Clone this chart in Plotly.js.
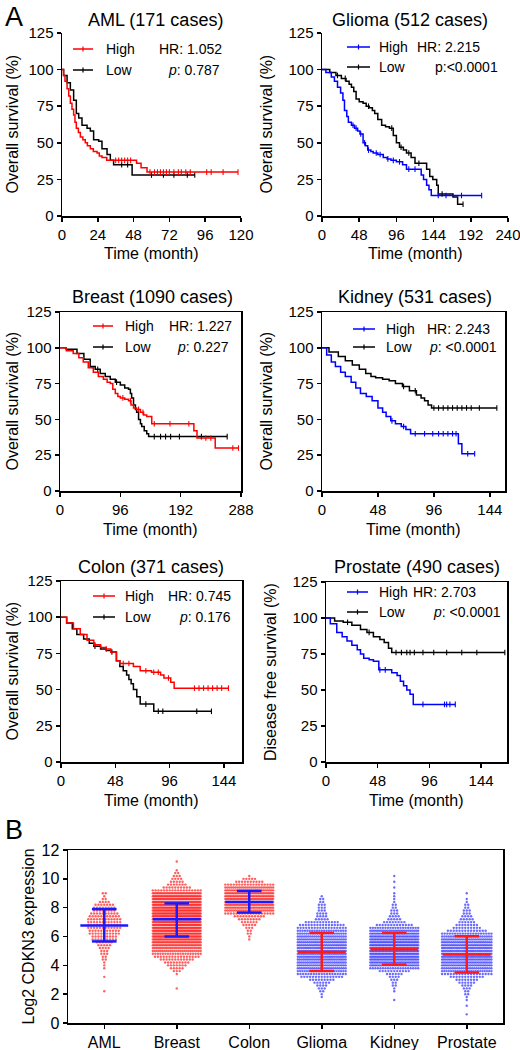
<!DOCTYPE html>
<html><head><meta charset="utf-8">
<script src="https://cdn.plot.ly/plotly-3.0.1.min.js"></script>
<style>html,body{margin:0;padding:0;background:#fff}#chart{width:520px;height:1050px}</style>
</head><body><div id="chart"></div>
<script>
// ================= DATA =================
const kmTitles = ['AML (171 cases)', 'Glioma (512 cases)', 'Breast (1090 cases)', 'Kidney (531 cases)', 'Colon (371 cases)', 'Prostate (490 cases)'];
const kmYLabels = ['Overall survival (%)', 'Overall survival (%)', 'Overall survival (%)', 'Overall survival (%)', 'Overall survival (%)', 'Disease free survival (%)'];
const kmXLabel = 'Time (month)';
const hrValues = ['1.052', '2.215', '1.227', '2.243', '0.745', '2.703'];
const pValues = ['0.787', '<0.0001', '0.227', '<0.0001', '0.176', '<0.0001'];
const pItalic = [true, false, true, true, true, true];
const seriesNames = ['High', 'Low'];
const kmXTicks = [[0,24,48,72,96,120],[0,48,96,144,192,240],[0,96,192,288],[0,48,96,144],[0,48,96,144],[0,48,96,144]];
const kmYTicks = [0, 25, 50, 75, 100, 125];

// AML
const amlHighT = [0,1,2,3.4,4.5,5.6,6.7,7.8,8.7,9.6,11,12.3,14,15.6,17,19,21,23.5,25,26.8,30,50,53,57,118];
const amlHighS = [100,96,92,87,82,77,73,69,64,60,57,54,52,50,48,46,44,43,41,40,38,36,33,30,30];
const amlHighCens = [36,38,40,42,44,46,59,62,64,66,68,70,72,75,78,80,83,86,97,100,108,118];
const amlLowT = [0,1.1,3.4,5.6,7.8,9.6,11.2,13.4,16.8,19,21.2,24.6,26.8,30.2,32.4,34.6,47,89];
const amlLowS = [100,96,91,86,79,70,67,62,60,58,52,51,46,42,38,35,28,28];
const amlLowCens = [40,44,60,68,75,84,89];
// Glioma
const gliHighT = [0,5,12,16,20,24,27,29,32,34,38,42,46,49,53,56,59,63,66,72,79,84,89,96,104,109,128,131,135,138,141,206];
const gliHighS = [100,98,95,92,88,84,79,72,68,64,62,60,58,56,50,48,45,44,43,42,40,39,38,37,35,32,28,25,21,18,14,14];
const gliHighCens = [40,44,50,55,60,70,75,85,92,100,112,120,150,160,180,206];
const gliLowT = [0,10,18,25,31,35,38,41,44,48,53,57,61,65,68,72,77,82,87,92,96,100,105,109,115,120,130,135,139,143,148,150,165,169,175,182];
const gliLowS = [100,98,96,94,92,90,88,85,80,78,77,75,74,72,70,66,62,61,60,55,50,47,45,43,40,36,36,32,27,25,21,15,15,13,8,8];
const gliLowCens = [20,30,60,90,102,112,125,155,182];
// Breast
const brHighT = [0,10,21,30,37,45,53,61,69,75,80,84,88,92,96,103,109,113,117,122,128,133,138,146,213,218,247,284];
const brHighS = [100,98,96,93,90,86,83,80,78,76,75,71,68,66,65,64,63,60,58,57,55,53,52,47,42,37,30,30];
const brHighCens = [100,112,125,132,150,175,205,232,240,275,284];
const brLowT = [0,10,27,38,48,56,64,72,80,88,96,103,109,112,114,117,120,122,125,128,130,134,138,141,266];
const brLowS = [100,99,96,92,87,85,82,80,78,76,74,72,71,68,65,60,57,55,50,47,45,42,40,38,38];
const brLowCens = [60,90,150,160,168,176,190,225,266];
// Kidney
const kiHighT = [0,4,8,11.5,16,20,25,29,33,38,43,48,52,55,59,63,68,72,76,117,120,131];
const kiHighS = [100,95,90,87,83,80,76,72,68,66,63,58,55,52,49,47,45,43,40,33,26,26];
const kiHighCens = [60,70,80,88,95,100,104,108,112,115,125,131];
const kiLowT = [0,6,14,20,26,32,37.5,42,46,52,57.6,63,69,75,81,85,88,91,94,150];
const kiLowS = [100,97,94,91,88,85,82,80,79,78,77,75,73,70,67,65,63,60,58,58];
const kiLowCens = [70,80,96,100,104,108,112,116,120,124,128,135,150];
// Colon
const coHighT = [0,5,11,17,23,29,35,40,44,49,52,64,70,80,88,91,97,100,148];
const coHighS = [100,96,92,88,84,81,79,78,76,70,68,66,63,62,60,58,55,51,51];
const coHighCens = [30,40,55,60,75,82,86,95,118,122,126,130,134,138,142,148];
const coLowT = [0,5,10,14,20,25,29,35,40,44,49,52,55,58,60,62,64,67,70,82,133];
const coLowS = [100,96,92,88,85,82,80,78,77,76,70,66,63,60,57,54,50,45,40,35,35];
const coLowCens = [30,45,75,86,90,120,133];
// Prostate
const prHighT = [0,4,10,15,19.5,24,29,32,35,40,44,49,61,66,69,72,75,78,81,120];
const prHighS = [100,96,90,87,84,81,78,75,72,71,70,64,62,60,56,53,50,47,40,40];
const prHighCens = [50,55,90,110,112,115,120];
const prLowT = [0,8,16,24,32,38,44,50,54,58,61,166];
const prLowS = [100,98,97,95,92,90,87,85,83,79,76,76];
const prLowCens = [20,40,65,70,75,78,82,90,100,112,126,140,166];

// Panel B: CDKN3 expression, counts of samples per 0.2-wide bin
const groups = ['AML', 'Breast', 'Colon', 'Glioma', 'Kidney', 'Prostate'];
const binStep = 0.2;
const binStart = [2.2, 2.4, 5.8, 1.8, 1.6, 0.6];
const amlCounts = [1,0,0,0,0,1,0,0,1,1,1,2,2,3,3,4,5,6,9,9,11,11,12,12,12,12,11,10,8,8,7,4,2,1,2];
const breastCounts = [1,0,0,0,0,1,3,5,7,9,12,16,20,25,30,34,38,47,49,50,51,52,52,52,52,52,52,51,51,50,49,47,45,36,18,10,7,5,4,3,2,1,0,0,1];
const colonCounts = [1,1,2,2,3,5,6,8,11,18,25,31,34,35,35,34,32,29,25,18,10,5,1];
const gliomaCounts = [1,1,2,3,4,6,9,15,19,22,24,25,26,27,27,28,28,27,26,26,25,24,23,21,18,16,12,5,4,4,3,3,3,2,2,1];
const kidneyCounts = [1,0,0,1,1,2,2,3,4,6,11,20,27,30,32,33,35,35,35,35,33,32,31,29,26,20,13,8,5,4,3,3,2,2,1,1,1,1,0,1,0,1,0,1];
const prostateCounts = [1,0,0,1,0,1,1,2,2,3,4,6,8,12,18,23,24,27,28,29,29,29,29,29,28,27,26,23,20,14,10,8,6,5,4,3,3,2,2,1,1,0,1];
const groupMean = [6.77, 7.2, 8.4, 4.93, 5.12, 4.75];
const groupSdLow = [5.66, 6.0, 7.66, 3.61, 4.05, 3.5];
const groupSdHigh = [7.9, 8.3, 9.16, 6.25, 6.25, 6.02];
const bYTicks = [0, 2, 4, 6, 8, 10, 12];
const bYLabel = 'Log2 CDKN3 expression';

// ================= LAYOUT / STYLE =================
const W = 520, H = 1050;
const fx = p => p / W, fy = p => 1 - p / H;
const FONT = 'Liberation Sans, Arial, Helvetica, sans-serif';
const RED = '#ff0000', BLUE = '#0000ff', BLACK = '#000000';

const km = [
  {hT: amlHighT, hS: amlHighS, hC: amlHighCens, lT: amlLowT, lS: amlLowS, lC: amlLowCens, col: RED,
   box: [62, 241, 33, 216], xr: [0, 120], mirror: false, title: [155, 20], ylab: 12,
   leg: [73, 93, 104, 49, 70], hrX: 157, pX: 222},
  {hT: gliHighT, hS: gliHighS, hC: gliHighCens, lT: gliLowT, lS: gliLowS, lC: gliLowCens, col: BLUE,
   box: [322, 508, 33, 216], xr: [0, 240], mirror: false, title: [410, 20], ylab: 266,
   leg: [347, 370, 377, 47, 67], hrX: 415, pX: 500},
  {hT: brHighT, hS: brHighS, hC: brHighCens, lT: brLowT, lS: brLowS, lC: brLowCens, col: RED,
   box: [60, 241, 312, 491], xr: [0, 288], mirror: true, title: [152, 297], ylab: 12,
   leg: [93, 113, 123, 326, 347], hrX: 167, pX: 231},
  {hT: kiHighT, hS: kiHighS, hC: kiHighCens, lT: kiLowT, lS: kiLowS, lC: kiLowCens, col: BLUE,
   box: [322, 505, 312, 491], xr: [0, 157], mirror: true, title: [415, 297], ylab: 266,
   leg: [353, 375, 384, 329, 347], hrX: 425, pX: 499},
  {hT: coHighT, hS: coHighS, hC: coHighCens, lT: coLowT, lS: coLowS, lC: coLowCens, col: RED,
   box: [61, 242, 581, 762], xr: [0, 160], mirror: true, title: [151, 567], ylab: 12,
   leg: [93, 115, 123, 596, 617], hrX: 166, pX: 233},
  {hT: prHighT, hS: prHighS, hC: prHighCens, lT: prLowT, lS: prLowS, lC: prLowCens, col: BLUE,
   box: [326, 507, 582, 762], xr: [0, 168], mirror: true, title: [417, 567], ylab: 270,
   leg: [347, 368, 377, 592, 612], hrX: 411, pX: 503},
];

function survAt(t, T, S) {
  let v = S[0];
  for (let i = 0; i < T.length; i++) { if (T[i] <= t) v = S[i]; else break; }
  return v;
}

const traces = [];
const layout = {
  width: W, height: H, margin: {l: 0, r: 0, t: 0, b: 0},
  paper_bgcolor: '#fff', plot_bgcolor: 'rgba(0,0,0,0)', showlegend: false,
  font: {family: FONT, color: BLACK}, annotations: [], shapes: []
};

function axisBase(extra) {
  return Object.assign({
    showline: true, linecolor: BLACK, linewidth: 1.5, ticks: 'outside', ticklen: 4, tickwidth: 1.5,
    tickcolor: BLACK, showgrid: false, zeroline: false, fixedrange: true, ticklabeloverflow: 'allow',
    tickfont: {family: FONT, size: 15, color: BLACK}
  }, extra);
}
function ann(text, x, y, o) {
  layout.annotations.push(Object.assign({text: text, x: fx(x), y: fy(y), xref: 'paper', yref: 'paper',
    showarrow: false, font: {family: FONT, size: 15, color: BLACK}, xanchor: 'center', yanchor: 'middle'}, o || {}));
}
function seg(x0, y0, x1, y1, color, w) {
  layout.shapes.push({type: 'line', xref: 'paper', yref: 'paper', x0: fx(x0), y0: fy(y0), x1: fx(x1), y1: fy(y1),
    line: {color: color, width: w}});
}

km.forEach((p, i) => {
  const n = i + 1;
  const xa = n === 1 ? 'x' : 'x' + n, ya = n === 1 ? 'y' : 'y' + n;
  const xk = n === 1 ? 'xaxis' : 'xaxis' + n, yk = n === 1 ? 'yaxis' : 'yaxis' + n;
  const [l, r, t, b] = p.box;
  layout[xk] = axisBase({domain: [fx(l), fx(r)], range: p.xr, anchor: ya, tickvals: kmXTicks[i],
    mirror: p.mirror});
  layout[yk] = axisBase({domain: [fy(b), fy(t)], range: [0, 125], anchor: xa, tickvals: kmYTicks,
    mirror: p.mirror});
  const curves = [[p.lT, p.lS, p.lC, BLACK], [p.hT, p.hS, p.hC, p.col]];
  curves.forEach(([T, S, C, col]) => {
    traces.push({type: 'scatter', mode: 'lines', x: T, y: S, xaxis: xa, yaxis: ya,
      line: {shape: 'hv', color: col, width: 1.5}, hoverinfo: 'skip'});
    traces.push({type: 'scatter', mode: 'markers', x: C, y: C.map(c => survAt(c, T, S)), xaxis: xa, yaxis: ya,
      marker: {symbol: 'line-ns', size: 4, color: col, line: {color: col, width: 1.1}}, hoverinfo: 'skip', cliponaxis: false});
  });
  // title & axis labels
  ann(kmTitles[i], p.title[0], p.title[1], {font: {family: FONT, size: 18, color: BLACK}});
  ann(kmYLabels[i], p.ylab, (t + b) / 2, {textangle: -90, font: {family: FONT, size: 16, color: BLACK}});
  ann(kmXLabel, (l + r) / 2, b + 38, {font: {family: FONT, size: 16, color: BLACK}});
  // in-plot legend
  const [lx0, lx1, tx, y1, y2] = p.leg;
  const mid = (lx0 + lx1) / 2;
  [[y1, p.col, seriesNames[0]], [y2, BLACK, seriesNames[1]]].forEach(([yy, col, name]) => {
    seg(lx0, yy, lx1, yy, col, 1.5);
    seg(mid, yy - 2.5, mid, yy + 2.5, col, 1.2);
    ann(name, tx, yy, {xanchor: 'left', font: {family: FONT, size: 14, color: BLACK}});
  });
  ann('HR: ' + hrValues[i], p.hrX, y1, {xanchor: 'left', font: {family: FONT, size: 14, color: BLACK}});
  const pText = pItalic[i] ? '<i>p</i>: ' + pValues[i] : 'p:' + pValues[i];
  ann(pText, p.pX, y2, {xanchor: 'right', font: {family: FONT, size: 14, color: BLACK}});
});

// ---------- Panel B ----------
const bBox = [68, 503, 850, 1023];
layout.xaxis7 = axisBase({domain: [fx(bBox[0]), fx(bBox[1])], range: [-0.5, 5.5], anchor: 'y7',
  tickvals: groups.map((g, k) => k), ticktext: groups, mirror: true, tickfont: {family: FONT, size: 16, color: BLACK}});
layout.yaxis7 = axisBase({domain: [fy(bBox[3]), fy(bBox[2])], range: [0, 12], anchor: 'x7', tickvals: bYTicks,
  mirror: true, tickfont: {family: FONT, size: 16, color: BLACK}});

const allCounts = [amlCounts, breastCounts, colonCounts, gliomaCounts, kidneyCounts, prostateCounts];
const dotColor = ['#ff2a2a', '#ff2a2a', '#ff2a2a', '#3a3aff', '#3a3aff', '#3a3aff'];
const barColor = ['#1a1aff', '#1a1aff', '#1a1aff', '#ff1a1a', '#ff1a1a', '#ff1a1a'];
const halfWidth = [0.23, 0.33, 0.33, 0.33, 0.33, 0.34];
const pitch = 0.04;
allCounts.forEach((counts, g) => {
  const xs = [], ys = [];
  counts.forEach((n, k) => {
    if (!n) return;
    const yv = binStart[g] + k * binStep;
    const sp = n > 1 ? Math.min(pitch, 2 * halfWidth[g] / (n - 1)) : 0;
    for (let j = 0; j < n; j++) { xs.push(g + (j - (n - 1) / 2) * sp); ys.push(yv); }
  });
  traces.push({type: 'scatter', mode: 'markers', x: xs, y: ys, xaxis: 'x7', yaxis: 'y7', hoverinfo: 'skip',
    marker: {size: 2.4, color: dotColor[g], opacity: 0.75, line: {width: 0}}});
});
groups.forEach((name, g) => {
  const m = groupMean[g], lo = groupSdLow[g], hi = groupSdHigh[g];
  traces.push({type: 'scatter', mode: 'lines', xaxis: 'x7', yaxis: 'y7', hoverinfo: 'skip',
    x: [g - 0.33, g + 0.33, null, g - 0.17, g + 0.17, null, g - 0.17, g + 0.17, null, g, g],
    y: [m, m, null, hi, hi, null, lo, lo, null, lo, hi],
    line: {color: barColor[g], width: 2.5}});
});
ann(bYLabel, 28, (bBox[2] + bBox[3]) / 2, {textangle: -90, font: {family: FONT, size: 16, color: BLACK}});

// panel letters
ann('A', 14, 17, {font: {family: FONT, size: 27, color: BLACK}});
ann('B', 14, 830, {font: {family: FONT, size: 27, color: BLACK}});

Plotly.newPlot('chart', traces, layout, {displayModeBar: false, staticPlot: true});
</script>
</body></html>
